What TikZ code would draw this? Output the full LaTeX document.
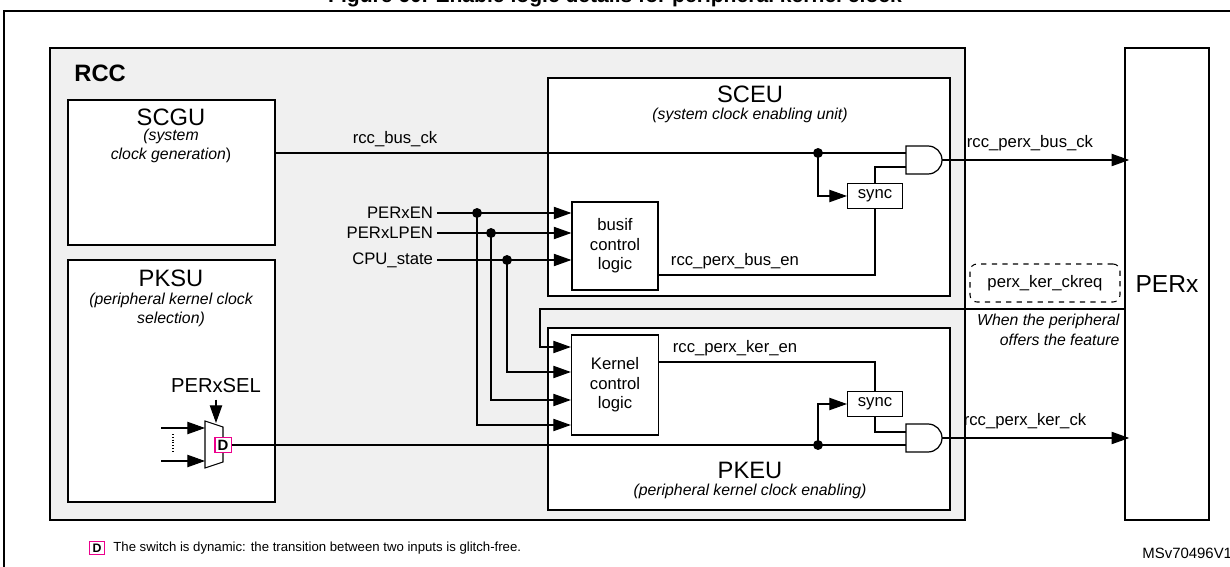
\documentclass[tikz,border=0pt]{standalone}
\usepackage{fontspec}
\setmainfont{Liberation Sans}
\usetikzlibrary{arrows.meta,positioning,calc}
\begin{document}
\begin{tikzpicture}[x=0.02cm,y=-0.02cm,semithick,>={Triangle[length=10pt,width=7pt]},
 font=\fontsize{9.5}{11}\selectfont]
 \tikzset{
 	unit box/.style={draw,fill=white,line width=0.7pt},
 	logic box/.style={draw,fill=white,line width=0.7pt,align=center,inner sep=0},
 	sync node/.style={draw,fill=white,minimum width=55*0.02cm,minimum height=25*0.02cm,inner sep=0},
 	big label/.style={font=\fontsize{13.5}{15}\selectfont},
 	sub label/.style={font=\fontsize{9}{11}\selectfont\itshape,align=center},
 	dot/.style={circle,fill,inner sep=2pt},
 	sig label/.style={anchor=east,inner sep=2pt},
 	dyn box/.style={draw=magenta,fill=white,inner sep=1.5pt,font=\fontsize{8.5}{9}\selectfont\bfseries},
 	and gate/.style={fill=white,line width=0.7pt}
 }
 \useasboundingbox (0,0) rectangle (1230,567);
 \node[font=\fontsize{12}{14}\selectfont\bfseries] (title) at (615,-3) {Figure 60. Enable logic details for peripheral kernel clock};
 \draw[line width=0.9pt] (4,600) |- (1240,11);

 % RCC frame and units
 \draw[fill=black!6,line width=0.7pt] (50,48) rectangle (965,520);
 \node[font=\fontsize{13.5}{15}\selectfont\bfseries,anchor=west] (rcc) at (68,73) {RCC};
 \draw[unit box] (68,100) rectangle (275,245);
 \draw[unit box] (68,260) rectangle (275,502);
 \draw[unit box] (548,78) rectangle (950,296);
 \draw[unit box] (548,328) rectangle (950,510);
 \draw[unit box] (1125,48) rectangle (1209,520);

 \node[big label] (scgu) at (171,117) {SCGU};
 \node[sub label] (scgu sub) at (171,146) {(system\\clock generation\upshape)};
 \node[big label] (pksu) at (171,278) {PKSU};
 \node[sub label] (pksu sub) at (171,310) {(peripheral kernel clock\\selection)};
 \node[big label] (sceu) at (750,94) {SCEU};
 \node[sub label] (sceu sub) at (750,115) {(system clock enabling unit)};
 \node[big label] (pkeu) at (750,470) {PKEU};
 \node[sub label] (pkeu sub) at (750,491) {(peripheral kernel clock enabling)};
 \node[font=\fontsize{14}{16}\selectfont] (perx) at (1167,284) {PERx};

 % logic blocks
 \node[logic box,minimum width=86*0.02cm,minimum height=88*0.02cm] (busif) at (615,246) {busif\\control\\logic};
 \node[logic box,minimum width=87*0.02cm,minimum height=100*0.02cm] (kernel) at (615,385) {Kernel\\control\\logic};
 \node[sync node] (sync bus) at (875,196) {sync};
 \node[sync node] (sync ker) at (875,404) {sync};

 % and gates
 \draw[and gate] (906,146) -- (928,146) arc[start angle=-90,end angle=90,radius=14] -- (906,174) -- cycle;
 \draw[and gate] (906,424) -- (928,424) arc[start angle=-90,end angle=90,radius=14] -- (906,452) -- cycle;
 \coordinate (and bus) at (942,160);
 \coordinate (and ker) at (942,438);

 % inputs
 \node[sig label] (en) at (437,213) {PERxEN};
 \node[sig label] (lpen) at (437,233) {PERxLPEN};
 \node[sig label] (cpu) at (437,260) {CPU\_state};
 \node[dot] (d1) at (477,213) {};
 \node[dot] (d2) at (491,233) {};
 \node[dot] (d3) at (507,260) {};
 \draw[->] (en.east) -- (busif.west |- en);
 \draw[->] (lpen.east) -- (busif.west |- lpen);
 \draw[->] (cpu.east) -- (busif.west |- cpu);
 \draw[->] (d3.center) |- (kernel.west |- 0,372);
 \draw[->] (d2.center) |- (kernel.west |- 0,400);
 \draw[->] (d1.center) |- (kernel.west |- 0,425);

 % bus clock path
 \node[dot] (d4) at (818,153) {};
 \draw (275,153) -- (906,153);
 \node[anchor=south] (bus ck) at (395,153) {rcc\_bus\_ck};
 \draw[->] (d4.center) |- (sync bus.west);
 \draw (sync bus.north) |- (906,167);
 \draw (busif.east |- 0,275) -| (sync bus.south);
 \node[anchor=south] (bus en) at (735,275) {rcc\_perx\_bus\_en};
 \draw[->] (and bus) -- (perx.west |- and bus);
 \node[anchor=south] (bus out) at (1030,157) {rcc\_perx\_bus\_ck};

 % kernel request
 \node[draw,dashed,rounded corners=4pt,minimum width=150*0.02cm,minimum height=38*0.02cm] (ckreq) at (1045,283) {perx\_ker\_ckreq};
 \draw[->] (1125,309) -- (540,309) |- (kernel.west |- 0,347);
 \node[sub label,align=right,anchor=north east,inner sep=0] (feature) at (1120,314) {When the peripheral\\offers the feature};

 % kernel clock path
 \draw (kernel.east |- 0,362) -| (sync ker.north);
 \node[anchor=south] (ker en) at (735,362) {rcc\_perx\_ker\_en};
 \draw (sync ker.south) |- (906,432);
 \node[dot] (d5) at (818,445) {};
 \draw[->] (d5.center) |- (sync ker.west);
 \draw[->] (and ker) -- (perx.west |- and ker);
 \node[anchor=south] (ker out) at (1025,435) {rcc\_perx\_ker\_ck};

 % mux
 \draw[fill=white] (205,421) -- (223,427) -- (223,462) -- (205,468) -- cycle;
 \node[dyn box] (dyn) at (223,445) {D};
 \draw (dyn.east) -- (906,445);
 \node[font=\fontsize{11.5}{13}\selectfont] (sel) at (216,386) {PERxSEL};
 \draw[->] (sel.south) -- (216,423);
 \coordinate (in1) at (161,428);
 \coordinate (in2) at (161,461);
 \draw[->] (in1) -- (205,428);
 \draw[->] (in2) -- (205,461);
 \draw[densely dotted] (173,434) -- (173,452);

 % footnote
 \node[dyn box,font=\fontsize{7}{8}\selectfont\bfseries] (dyn note) at (97,548) {D};
 \node[anchor=west,font=\fontsize{7.5}{9}\selectfont] (note) at (107,548) {The switch is dynamic: the transition between two inputs is glitch-free.};
 \node[anchor=west,font=\fontsize{8.5}{10}\selectfont] (ref) at (1136,553) {MSv70496V1};
\end{tikzpicture}
\end{document}
